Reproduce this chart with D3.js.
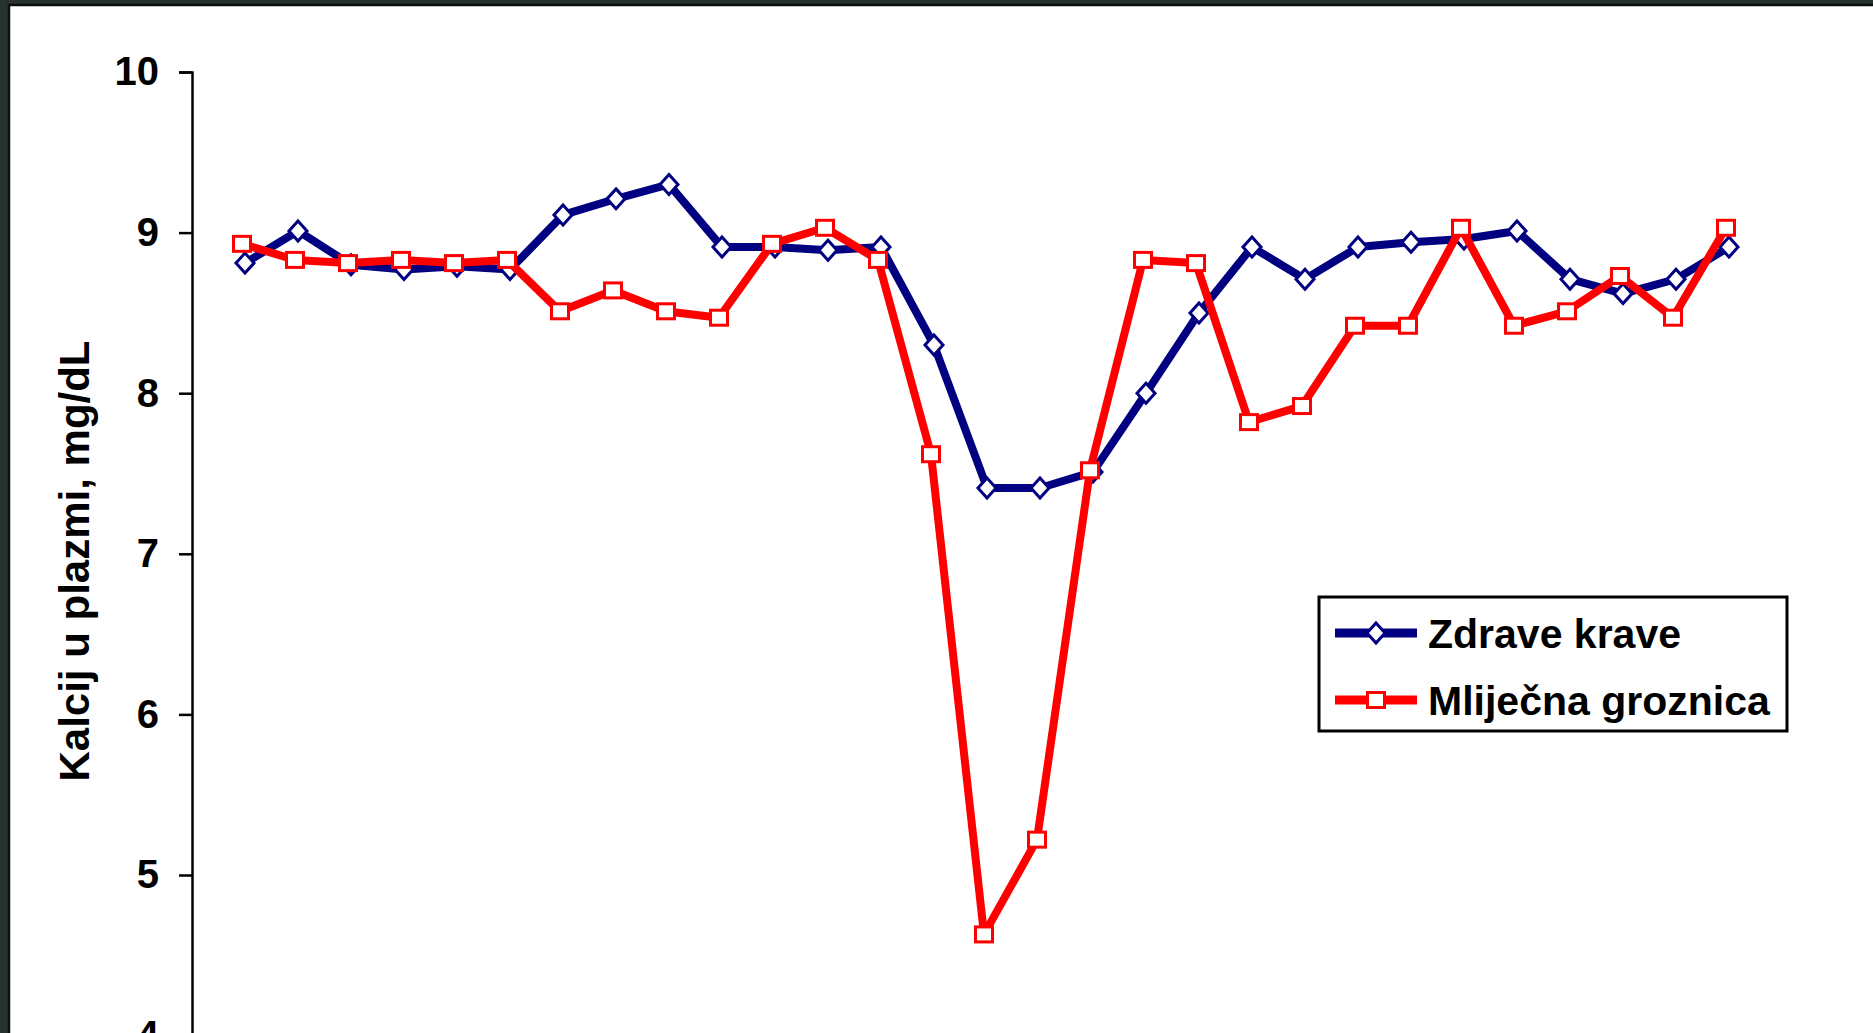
<!DOCTYPE html>
<html>
<head>
<meta charset="utf-8">
<script src="https://cdn.jsdelivr.net/npm/d3@7/dist/d3.min.js"></script>
<style>
  html, body { margin: 0; padding: 0; background: #27342e; overflow: hidden; }
  svg { display: block; }
  text { font-family: "Liberation Sans", Arial, sans-serif; font-weight: bold; fill: #000; }
</style>
</head>
<body>
<script>
// Plasma calcium over the sampling days, two groups of cows
const days = d3.range(1, 30);
const zdraveKrave = [8.81, 9.01, 8.80, 8.77, 8.79, 8.77, 9.11, 9.21, 9.30, 8.91,
                     8.91, 8.89, 8.91, 8.30, 7.41, 7.41, 7.51, 8.00, 8.50, 8.91,
                     8.71, 8.91, 8.94, 8.96, 9.01, 8.71, 8.62, 8.71, 8.91];
const mlijecnaGroznica = [8.93, 8.83, 8.81, 8.83, 8.81, 8.83, 8.51, 8.64, 8.51, 8.47,
                          8.93, 9.03, 8.83, 7.62, 4.63, 5.22, 7.52, 8.83, 8.81, 7.82,
                          7.92, 8.42, 8.42, 9.03, 8.42, 8.51, 8.73, 8.47, 9.03];
const yTicks = [4, 5, 6, 7, 8, 9, 10];
const seriesNames = ["Zdrave krave", "Mliječna groznica"];
const seriesColors = ["#000080", "#ff0000"];

const W = 1873, H = 1033;
const svg = d3.select("body").append("svg").attr("width", W).attr("height", H);

// page frame
svg.append("rect").attr("x", 0).attr("y", 0).attr("width", W).attr("height", H).attr("fill", "#27342e");
svg.append("rect").attr("x", 9).attr("y", 5).attr("width", W).attr("height", H)
  .attr("fill", "#fff").attr("stroke", "#0b0f0d").attr("stroke-width", 2.5);

const x = d3.scaleLinear().domain([0, 30]).range([192, 192 + 30 * 53]);
const y = d3.scaleLinear().domain([4, 10]).range([72 + 6 * 160.6, 72]);

// y axis
const yAxis = d3.axisLeft(y).tickValues(yTicks).tickSize(13).tickPadding(20).tickFormat(d3.format("d"));
const ga = svg.append("g").attr("transform", `translate(${x(0)},0)`).call(yAxis);
ga.select(".domain").attr("stroke", "#000").attr("stroke-width", 2.5);
ga.selectAll(".tick line").attr("stroke", "#000").attr("stroke-width", 2.5);
ga.selectAll(".tick text").attr("font-size", 40).attr("font-family", "Liberation Sans, Arial, sans-serif")
  .attr("font-weight", "bold").attr("fill", "#000");

svg.append("text")
  .attr("transform", "translate(74,561) rotate(-90)")
  .attr("text-anchor", "middle").attr("dominant-baseline", "central")
  .attr("font-size", 42)
  .text("Kalcij u plazmi, mg/dL");

const diamond = (cx, cy) => `M${cx},${cy - 10}L${cx + 9},${cy}L${cx},${cy + 10}L${cx - 9},${cy}Z`;

// each series sits slightly shifted within its day slot
function drawSeries(values, color, kind, dx) {
  const px = i => x(days[i]) + dx;
  const line = d3.line().x((d, i) => px(i)).y(d => y(d));
  svg.append("path").datum(values).attr("d", line)
    .attr("fill", "none").attr("stroke", color).attr("stroke-width", 8)
    .attr("stroke-linejoin", "round");
  const g = svg.append("g");
  if (kind === "diamond") {
    g.selectAll("path").data(values).join("path")
      .attr("d", (d, i) => diamond(px(i), y(d)))
      .attr("fill", "#fff").attr("stroke", color).attr("stroke-width", 3);
  } else {
    g.selectAll("rect").data(values).join("rect")
      .attr("x", (d, i) => px(i) - 8.5).attr("y", d => y(d) - 7.5)
      .attr("width", 17).attr("height", 15)
      .attr("fill", "#fff").attr("stroke", color).attr("stroke-width", 3);
  }
}
drawSeries(zdraveKrave, seriesColors[0], "diamond", 0);
drawSeries(mlijecnaGroznica, seriesColors[1], "square", -3);

// legend
const lg = svg.append("g");
lg.append("rect").attr("x", 1319).attr("y", 597).attr("width", 468).attr("height", 134)
  .attr("fill", "#fff").attr("stroke", "#000").attr("stroke-width", 3);
const rows = [633, 700];
seriesNames.forEach((name, k) => {
  const cy = rows[k];
  lg.append("line").attr("x1", 1335).attr("x2", 1417).attr("y1", cy).attr("y2", cy)
    .attr("stroke", seriesColors[k]).attr("stroke-width", 9);
  if (k === 0) {
    lg.append("path").attr("d", diamond(1376, cy)).attr("fill", "#fff")
      .attr("stroke", seriesColors[k]).attr("stroke-width", 3);
  } else {
    lg.append("rect").attr("x", 1376 - 8.5).attr("y", cy - 7.5).attr("width", 17).attr("height", 15)
      .attr("fill", "#fff").attr("stroke", seriesColors[k]).attr("stroke-width", 3);
  }
  lg.append("text").attr("x", 1428).attr("y", cy + 14.5).attr("font-size", 41).text(name);
});
</script>
</body>
</html>
